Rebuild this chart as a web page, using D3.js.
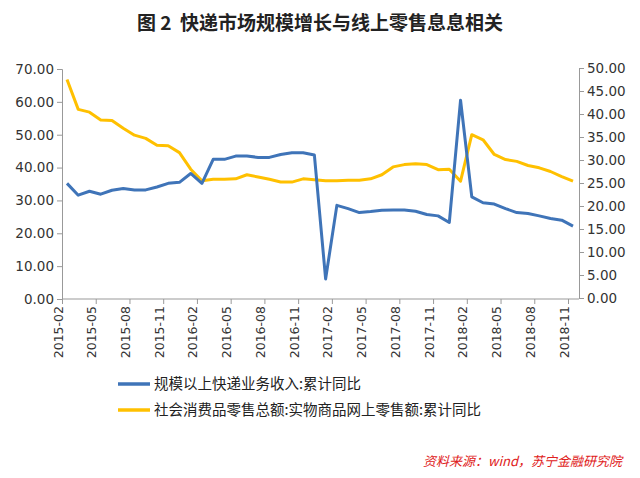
<!DOCTYPE html>
<html><head><meta charset="utf-8">
<script src="https://cdn.jsdelivr.net/npm/d3@7"></script>
<style>body{margin:0;background:#fff;font-family:"Noto Sans CJK SC",sans-serif}</style>
</head><body><svg id="c" width="640" height="478"></svg>
<script>
const months=[];
for(let y=2015;y<=2018;y++)for(let m=1;m<=12;m++){if((y===2015&&m<2)||(y===2018&&m>11))continue;months.push(y+"-"+String(m).padStart(2,"0"));}
const express=[35.2,31.6,32.8,31.9,33.1,33.6,33.2,33.2,34.1,35.2,35.5,38.2,35.2,42.5,42.5,43.5,43.5,43.1,43.1,44.0,44.5,44.5,43.8,6.1,28.5,27.5,26.3,26.6,27.0,27.1,27.1,26.7,25.7,25.3,23.3,60.5,31.1,29.3,28.9,27.5,26.3,26.0,25.3,24.5,24.0,22.2];
const retail=[47.5,41.0,40.4,38.7,38.6,36.9,35.4,34.7,33.2,33.1,31.6,28.0,25.5,25.8,25.8,25.9,26.8,26.3,25.8,25.2,25.2,25.9,25.7,25.5,25.5,25.6,25.6,25.9,26.8,28.5,29.0,29.2,29.0,27.9,28.0,25.4,35.5,34.4,31.2,30.1,29.7,28.8,28.3,27.5,26.4,25.4];
const leftTicks=[0,10,20,30,40,50,60,70];
const rightTicks=[0,5,10,15,20,25,30,35,40,45,50];
const tickMonths=months.filter((d,i)=>i%3===0);
const names=["规模以上快递业务收入:累计同比","社会消费品零售总额:实物商品网上零售额:累计同比"];
const colors=["#3F74B8","#FFC000"];

const svg=d3.select("#c");
const x=d3.scalePoint().domain(months).range([67,573]);
const yL=d3.scaleLinear().domain([0,70]).range([299,69]);
const yR=d3.scaleLinear().domain([0,50]).range([298,68]);
const tc="#333";
svg.append("text").attr("x",320).attr("y",30).attr("text-anchor","middle").attr("font-size",19).attr("font-weight","bold").attr("fill","#222").attr("xml:space","preserve").style("white-space","pre").text("图 2  快递市场规模增长与线上零售息息相关");

const gl=svg.append("g").attr("transform","translate(62,0)").call(d3.axisLeft(yL).tickValues(leftTicks).tickFormat(d3.format(".2f")).tickSize(5));
const gr=svg.append("g").attr("transform","translate(579,0)").call(d3.axisRight(yR).tickValues(rightTicks).tickFormat(d3.format(".2f")).tickSize(5));
const gx=svg.append("g").attr("transform","translate(-5,299)").call(d3.axisBottom(x).tickValues(tickMonths).tickSize(5));
gx.select(".domain").attr("d","M67,0H584");
[gl,gr,gx].forEach(g=>{g.selectAll("path,line").attr("stroke","#999");g.selectAll("text").attr("fill",tc).attr("font-size",13.5).attr("font-family","Verdana,DejaVu Sans,sans-serif");});
gx.selectAll("text").attr("transform","rotate(-90)").attr("text-anchor","end").attr("x",-7).attr("y",-4).attr("dy","0.32em").attr("font-size",12.5);

const line=(s)=>d3.line().x((d,i)=>x(months[i])).y(d=>s(d));
svg.append("path").datum(retail).attr("d",line(yR)).attr("fill","none").attr("stroke",colors[1]).attr("stroke-width",3).attr("stroke-linejoin","round");
svg.append("path").datum(express).attr("d",line(yL)).attr("fill","none").attr("stroke",colors[0]).attr("stroke-width",3).attr("stroke-linejoin","round");

names.forEach((n,i)=>{
 const yy=384+i*26;
 svg.append("line").attr("x1",118).attr("x2",150).attr("y1",yy).attr("y2",yy).attr("stroke",colors[i]).attr("stroke-width",3.5);
 svg.append("text").attr("x",154).attr("y",yy+5).attr("font-size",14.5).attr("fill","#222").text(n);
});
svg.append("text").attr("x",622).attr("y",466).attr("text-anchor","end").attr("font-size",13).attr("font-style","italic").attr("fill","#e02020").text("资料来源：wind，苏宁金融研究院");
</script></body></html>
